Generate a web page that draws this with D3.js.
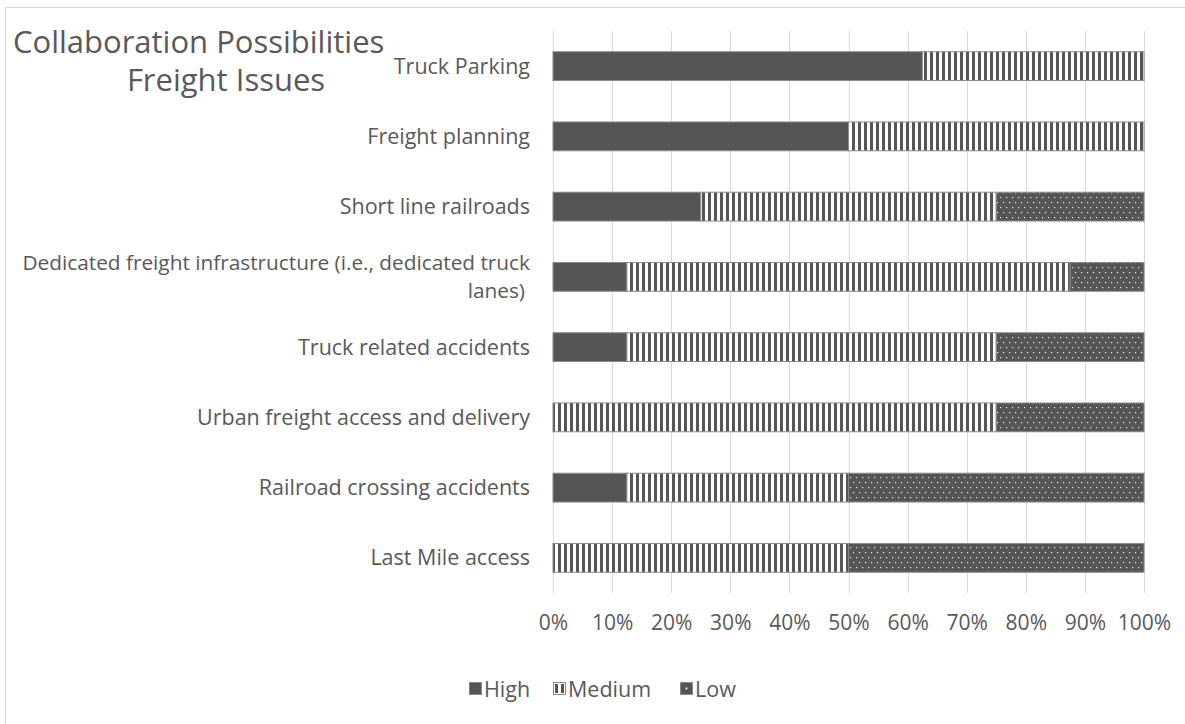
<!DOCTYPE html>
<html><head><meta charset="utf-8">
<script src="https://cdn.jsdelivr.net/npm/d3@7"></script>
<style>html,body{margin:0;padding:0;background:#fff;}svg{display:block;}</style>
</head><body>
<script>
const categories = ["Truck Parking","Freight planning","Short line railroads","Dedicated freight infrastructure (i.e., dedicated truck lanes)","Truck related accidents","Urban freight access and delivery","Railroad crossing accidents","Last Mile access"];
const seriesNames = ["High","Medium","Low"];
const high   = [62.5, 50, 25, 12.5, 12.5, 0, 12.5, 0];
const medium = [37.5, 50, 50, 75, 62.5, 75, 37.5, 50];
const low    = [0, 0, 25, 12.5, 25, 25, 50, 50];
const tickValues = [0,10,20,30,40,50,60,70,80,90,100];
const titleLines = ["Collaboration Possibilities", "Freight Issues"];

const W = 1185, H = 724;
const FONT = "'Open Sans', sans-serif";
const TXT = "#595959";
const svg = d3.select("body").append("svg").attr("width", W).attr("height", H);
const defs = svg.append("defs");

const pM = defs.append("pattern").attr("id","pMed").attr("patternUnits","userSpaceOnUse").attr("width",6).attr("height",6);
pM.append("rect").attr("width",6).attr("height",6).attr("fill","#ffffff");
pM.append("rect").attr("x",0).attr("width",3).attr("height",6).attr("fill","#555555");
const pL = defs.append("pattern").attr("id","pLow").attr("patternUnits","userSpaceOnUse").attr("width",6).attr("height",10);
pL.append("rect").attr("width",6).attr("height",10).attr("fill","#555555");
pL.append("rect").attr("x",1).attr("y",2).attr("width",1.2).attr("height",1.2).attr("fill","#e8e8e8");
pL.append("rect").attr("x",4).attr("y",7).attr("width",1.2).attr("height",1.2).attr("fill","#e8e8e8");
const fills = {High:"#555555", Medium:"url(#pMed)", Low:"url(#pLow)"};

svg.append("rect").attr("x",5.5).attr("y",7.5).attr("width",1300).attr("height",800)
  .attr("fill","none").attr("stroke","#d9d9d9").attr("stroke-width",1);

const x = d3.scaleLinear().domain([0,100]).range([553,1144]);
const y = d3.scaleBand().domain(categories).range([31,593]).paddingInner(0.59).paddingOuter(0.295);

svg.append("g").selectAll("line").data(tickValues).join("line")
  .attr("x1",d=>Math.round(x(d))+0.5).attr("x2",d=>Math.round(x(d))+0.5)
  .attr("y1",31).attr("y2",593).attr("stroke","#d9d9d9").attr("stroke-width",1);

const rows = categories.map((c,i)=>({cat:c, High:high[i], Medium:medium[i], Low:low[i]}));
const stack = d3.stack().keys(seriesNames)(rows);
svg.append("g").selectAll("g").data(stack).join("g")
  .attr("fill",s=>fills[s.key])
  .selectAll("rect").data(s=>s.filter(d=>d[1]-d[0]>0)).join("rect")
  .attr("x",d=>x(d[0])).attr("width",d=>x(d[1])-x(d[0]))
  .attr("y",d=>y(d.data.cat)).attr("height",y.bandwidth())
  .attr("stroke","#8a8a8a").attr("stroke-width",1);

const xAxis = d3.axisBottom(x).tickValues(tickValues).tickFormat(d=>d+"%").tickSize(0).tickPadding(0);
const gx = svg.append("g").attr("transform","translate(0,616)").call(xAxis);
gx.select(".domain").remove();
gx.selectAll("text").attr("font-family",FONT).attr("font-size",21).attr("fill",TXT).attr("dy","0.35em").attr("y",7);

const LS = 21.5;
const gy = svg.append("g");
categories.forEach(c=>{
  const cy = y(c)+y.bandwidth()/2;
  if (c.length > 40) {
    gy.append("text").attr("font-family",FONT).attr("font-size",20.8).attr("fill",TXT).attr("text-anchor","end")
      .attr("x",530).attr("y",cy-14.5).attr("dy","0.35em").text("Dedicated freight infrastructure (i.e., dedicated truck");
    gy.append("text").attr("font-family",FONT).attr("font-size",20.8).attr("fill",TXT).attr("text-anchor","end")
      .attr("x",525).attr("y",cy+14).attr("dy","0.35em").text("lanes)");
  } else {
    gy.append("text").attr("font-family",FONT).attr("font-size",LS).attr("fill",TXT)
      .attr("x",530).attr("y",cy).attr("dy","0.35em").attr("text-anchor","end").text(c);
  }
});

const tt = svg.append("text").attr("font-family",FONT).attr("font-size",31).attr("fill",TXT);
tt.append("tspan").attr("x",13).attr("y",42).attr("dy","0.35em").text(titleLines[0]);
tt.append("tspan").attr("x",226).attr("y",80).attr("dy","0.35em").attr("text-anchor","middle").text(titleLines[1]);

const legend = [{k:"High",x:469},{k:"Medium",x:553},{k:"Low",x:680}];
const lg = svg.append("g");
legend.forEach(l=>{
  lg.append("rect").attr("x",l.x+0.5).attr("y",682.5).attr("width",12).attr("height",12)
    .attr("fill", l.k==="Medium" ? "#ffffff" : "#555555")
    .attr("stroke","#8a8a8a");
  if (l.k==="Medium") {
    lg.append("rect").attr("x",l.x+2).attr("y",684).attr("width",3).attr("height",9).attr("fill","#555555");
    lg.append("rect").attr("x",l.x+8).attr("y",684).attr("width",3).attr("height",9).attr("fill","#555555");
  }
  if (l.k==="Low") {
    lg.append("rect").attr("x",l.x+5.5).attr("y",687.5).attr("width",2).attr("height",2).attr("fill","#e8e8e8");
  }
  lg.append("text").attr("font-family",FONT).attr("font-size",21.5).attr("fill",TXT)
    .attr("x",l.x+15).attr("y",689).attr("dy","0.35em").text(l.k);
});
</script>
</body></html>
